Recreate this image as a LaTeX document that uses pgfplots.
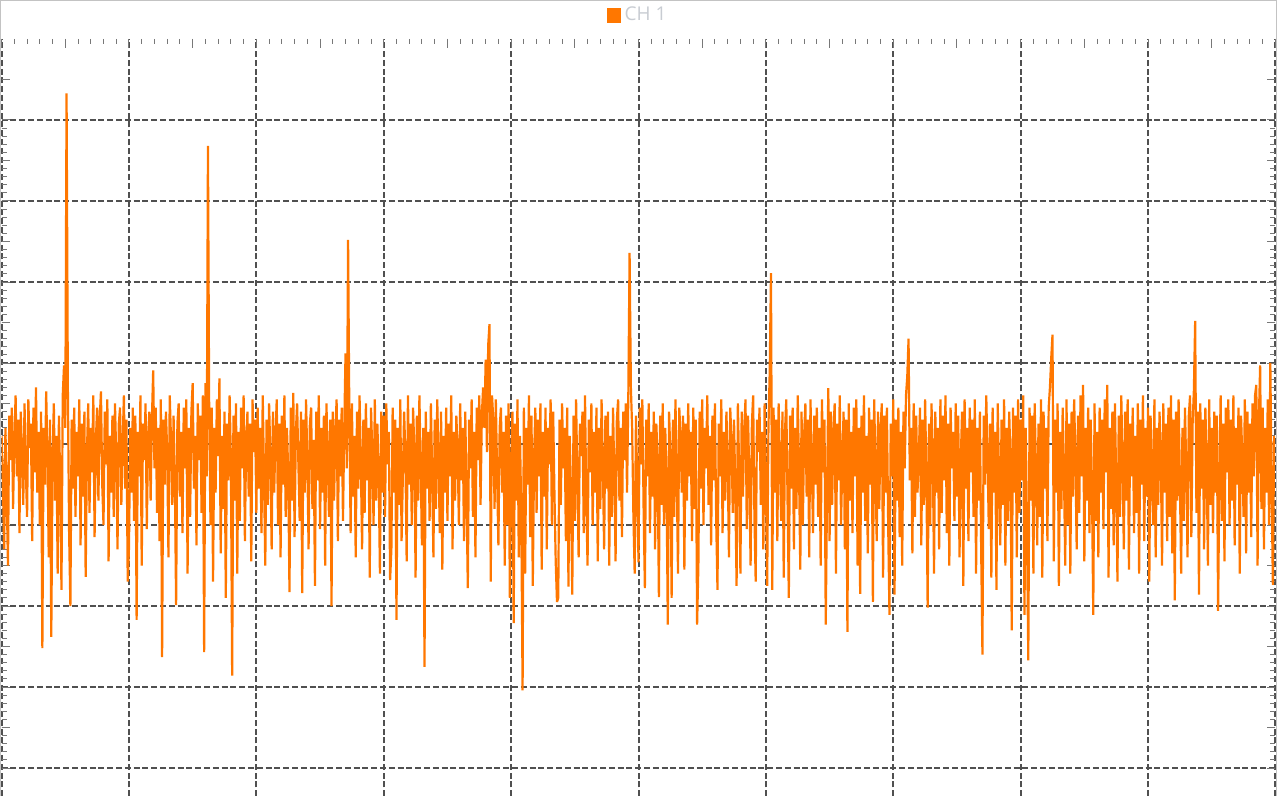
\documentclass[border=0pt]{standalone}
\usepackage{fontspec}
\setmainfont{Open Sans}
\usepackage{pgfplots}
\pgfplotsset{compat=1.18}
\definecolor{sig}{RGB}{255,119,0}
\definecolor{gridc}{RGB}{80,80,80}
\definecolor{tickc}{RGB}{120,120,120}
\definecolor{framec}{RGB}{195,195,195}
\definecolor{legtext}{RGB}{200,204,210}
\begin{document}
\begin{tikzpicture}
\useasboundingbox (0,0) rectangle (638.5pt,-398pt);
\begin{axis}[
  at={(0.8pt,-19.5pt)}, anchor=north west,
  scale only axis, width=636.9pt, height=405pt,
  xmin=0, xmax=1000, ymin=-500, ymax=500,
  xtick={0,100,...,1000}, ytick={-400,-300,...,400},
  minor x tick num=9, minor y tick num=9,
  extra x ticks={50,150,...,950}, extra y ticks={-450,-350,...,450},
  extra tick style={grid=none, major tick length=4.3pt},
  xticklabels={}, yticklabels={}, extra x tick labels={}, extra y tick labels={},
  tick align=inside, tick pos=both,
  major tick length=4.3pt, minor tick length=2.5pt,
  every tick/.style={color=tickc, line width=0.5pt},
  grid=major,
  major grid style={color=gridc, line width=1pt, dash pattern=on 3pt off 1.4pt},
  axis line style={draw=none},
  legend style={draw=none, fill=none, at={(0.5,1)}, anchor=center, yshift=11.75pt,
    font=\fontsize{9.5pt}{11pt}\selectfont, text=legtext},
  legend image code/.code={\fill[sig] (0pt,-3pt) rectangle (6pt,3pt);},
]
\addplot[color=sig, line width=1.1pt, mark=none, line join=miter, miter limit=2] table[header=false, row sep=\\, x expr=\coordindex, y index=0] {
10\\ -45\\ -130\\ 20\\ -60\\ -150\\ 35\\ -20\\ 45\\ -80\\ 5\\ 60\\ -40\\ 30\\ -110\\ 40\\ -10\\ -75\\ 50\\ -30\\
-90\\ 55\\ -5\\ 25\\ -120\\ 45\\ -35\\ 70\\ -60\\ 15\\ -100\\ 40\\ -252\\ 20\\ -50\\ 65\\ -15\\ -140\\ 30\\ -238\\
-20\\ 50\\ -70\\ 10\\ -160\\ 35\\ -45\\ -180\\ 60\\ 97\\ 20\\ 433\\ 73\\ -110\\ -200\\ 30\\ -55\\ 45\\ -90\\ 15\\
-40\\ 55\\ -125\\ 25\\ -65\\ 40\\ -164\\ -10\\ 50\\ -85\\ 20\\ -35\\ 60\\ -115\\ 5\\ 45\\ -70\\ 30\\ 65\\ -50\\
-100\\ 40\\ -25\\ 55\\ -145\\ 10\\ -60\\ 35\\ -90\\ 50\\ -15\\ -130\\ 25\\ 45\\ -75\\ 0\\ 60\\ -55\\ 30\\ -170\\
-128\\ 20\\ -60\\ 45\\ -95\\ 35\\ -217\\ 15\\ -40\\ 60\\ -150\\ 25\\ -20\\ 50\\ -105\\ 10\\ 40\\ -70\\ 30\\ 91\\
-30\\ 45\\ -85\\ 20\\ -120\\ 55\\ -263\\ 30\\ -50\\ 40\\ -10\\ -140\\ 60\\ 5\\ -75\\ 35\\ -40\\ -199\\ 25\\ 50\\
-65\\ 15\\ -110\\ 45\\ -30\\ 55\\ -160\\ 20\\ -90\\ 40\\ 75\\ -55\\ 10\\ -125\\ 50\\ -20\\ 35\\ -85\\ 60\\ -257\\
75\\ -40\\ 368\\ 30\\ -100\\ 45\\ -170\\ 20\\ -60\\ 55\\ -15\\ 81\\ -135\\ 10\\ -80\\ 40\\ -190\\ 25\\ -45\\ 60\\
-20\\ -286\\ 35\\ -70\\ 50\\ -160\\ 15\\ -95\\ 45\\ -30\\ 60\\ -120\\ 5\\ 40\\ -65\\ 25\\ -145\\ 55\\ -10\\ 30\\
-85\\ 45\\ -55\\ 20\\ -110\\ 60\\ -40\\ -150\\ 30\\ -75\\ 50\\ -15\\ -130\\ 40\\ -60\\ 10\\ 55\\ -100\\ 25\\ -140\\
35\\ -50\\ 60\\ -90\\ 20\\ -35\\ -183\\ 45\\ -70\\ 63\\ -115\\ 15\\ 50\\ -25\\ -95\\ 40\\ -184\\ 30\\ -60\\ 55\\
-20\\ -130\\ 25\\ 45\\ -80\\ 5\\ -175\\ 40\\ -45\\ 60\\ -105\\ 20\\ -60\\ 35\\ -150\\ 50\\ -10\\ -90\\ 30\\ -200\\
40\\ -70\\ 15\\ 55\\ -120\\ 30\\ -40\\ 45\\ -95\\ 20\\ 112\\ -30\\ 252\\ 35\\ -110\\ 50\\ -65\\ 10\\ -140\\ 40\\
-55\\ 60\\ -20\\ -130\\ 30\\ -85\\ 50\\ -45\\ 20\\ -165\\ 45\\ -10\\ -100\\ 55\\ -70\\ 25\\ -35\\ -160\\ 40\\ -60\\
35\\ -90\\ 50\\ -25\\ 15\\ -168\\ -130\\ 45\\ -60\\ 30\\ -217\\ 20\\ -75\\ 55\\ -120\\ -40\\ 40\\ -15\\ -145\\ 60\\
-50\\ 25\\ -100\\ 45\\ -5\\ -165\\ 35\\ -70\\ 60\\ -30\\ -125\\ 20\\ -275\\ 40\\ -55\\ 15\\ -95\\ 50\\ -35\\ -140\\
30\\ -80\\ 55\\ -20\\ -110\\ 40\\ -155\\ 10\\ -60\\ 45\\ -95\\ 25\\ -40\\ 60\\ -130\\ 15\\ -70\\ 35\\ -10\\ -100\\
50\\ -45\\ 20\\ -120\\ 40\\ -65\\ -178\\ 30\\ -30\\ 55\\ -90\\ 15\\ -140\\ 45\\ -20\\ 60\\ -75\\ 35\\ 70\\ 20\\
104\\ -10\\ 122\\ 148\\ -170\\ 60\\ 30\\ -80\\ 55\\ -40\\ -125\\ 20\\ 45\\ -60\\ 15\\ -150\\ 35\\ -100\\ 50\\ -190\\
-30\\ 40\\ -221\\ 25\\ -70\\ 55\\ -140\\ 10\\ -95\\ -304\\ 45\\ -160\\ 20\\ -50\\ 60\\ -115\\ 35\\ -175\\ -20\\ 45\\
-85\\ 30\\ -40\\ 50\\ -155\\ 15\\ -65\\ 45\\ -130\\ 20\\ -25\\ 55\\ -100\\ 40\\ -60\\ -145\\ -195\\ -190\\ 30\\ -75\\
50\\ -30\\ 20\\ -120\\ 45\\ -176\\ 10\\ -60\\ -186\\ 35\\ -95\\ 55\\ -45\\ -140\\ 25\\ -15\\ 40\\ -110\\ 60\\ -70\\
-150\\ 30\\ -35\\ 50\\ -100\\ 15\\ -60\\ 45\\ -145\\ 20\\ -80\\ 55\\ -25\\ -130\\ 35\\ -55\\ 40\\ -150\\ 10\\ -90\\
45\\ -40\\ -145\\ 30\\ 55\\ -70\\ 20\\ -115\\ 40\\ -20\\ 50\\ -60\\ 60\\ 236\\ 70\\ 20\\ -90\\ -160\\ 35\\ -50\\
-146\\ 45\\ -25\\ 55\\ -80\\ -178\\ 30\\ -40\\ 50\\ -110\\ 15\\ -65\\ 40\\ -130\\ 25\\ -20\\ -189\\ 35\\ -75\\ 50\\
-100\\ 20\\ -50\\ -223\\ 40\\ -15\\ -190\\ 30\\ -90\\ 55\\ -35\\ -160\\ 45\\ 10\\ -60\\ 35\\ -155\\ 25\\ -70\\ 50\\
-40\\ 15\\ -120\\ 45\\ -80\\ 30\\ -223\\ -150\\ 40\\ -55\\ 55\\ -100\\ 20\\ -30\\ 60\\ -75\\ 10\\ -125\\ 35\\ -45\\
50\\ -95\\ -180\\ 25\\ -40\\ 55\\ -110\\ 15\\ -70\\ 40\\ -20\\ -140\\ 45\\ 5\\ -85\\ 30\\ -60\\ -175\\ 50\\ -30\\
-160\\ 40\\ -65\\ 20\\ 55\\ -105\\ 35\\ -45\\ -150\\ 25\\ 60\\ -90\\ -170\\ 30\\ -10\\ 45\\ -75\\ 15\\ -130\\ 50\\
-40\\ -175\\ 20\\ 89\\ 211\\ -180\\ 45\\ -60\\ 30\\ -120\\ 50\\ -25\\ -95\\ 40\\ -165\\ 15\\ 55\\ -70\\ -190\\ 35\\
-55\\ 45\\ -130\\ 20\\ -80\\ 60\\ -30\\ -155\\ 40\\ -100\\ 10\\ 50\\ -65\\ 30\\ -140\\ 55\\ -20\\ -110\\ 35\\ -50\\
45\\ -90\\ 20\\ -150\\ 55\\ -35\\ 30\\ -223\\ -60\\ 69\\ -120\\ 40\\ -75\\ 15\\ 50\\ -160\\ 25\\ -45\\ 60\\ -100\\
-20\\ 40\\ -130\\ 30\\ -232\\ 50\\ -70\\ 15\\ -110\\ 45\\ -40\\ 55\\ -150\\ 20\\ -185\\ 35\\ -60\\ 60\\ -95\\ 10\\
-135\\ 45\\ -50\\ 30\\ -195\\ 55\\ -25\\ -120\\ 40\\ -80\\ 20\\ 50\\ -165\\ 35\\ -60\\ 45\\ -100\\ -211\\ 25\\ -40\\
55\\ -186\\ 30\\ -70\\ 45\\ -115\\ 15\\ -150\\ 40\\ -30\\ 60\\ 84\\ 130\\ -45\\ 20\\ -135\\ 50\\ -90\\ 35\\ -60\\
-20\\ 45\\ -125\\ 30\\ -75\\ 55\\ -40\\ -202\\ 25\\ -100\\ 50\\ -10\\ -160\\ 40\\ -60\\ 20\\ -130\\ 55\\ -85\\ 35\\
-45\\ 60\\ -110\\ 25\\ -150\\ 45\\ -30\\ 15\\ -95\\ 50\\ -65\\ 35\\ -140\\ -20\\ 40\\ -175\\ 55\\ -55\\ 20\\ -120\\
45\\ -35\\ 30\\ -90\\ 55\\ -160\\ 20\\ -70\\ 40\\ -130\\ -260\\ 35\\ -50\\ 60\\ -15\\ -105\\ 25\\ -165\\ 45\\ -60\\
15\\ -180\\ 50\\ -40\\ -125\\ 30\\ -75\\ 55\\ -150\\ 20\\ -95\\ 40\\ -20\\ -230\\ 45\\ -60\\ 35\\ -140\\ 55\\ -85\\
30\\ -45\\ 60\\ -211\\ 20\\ -110\\ -267\\ 45\\ -70\\ 35\\ -160\\ 50\\ -30\\ -125\\ 25\\ -90\\ 55\\ -165\\ 40\\ -55\\
20\\ -120\\ 45\\ 70\\ 106\\ 135\\ -145\\ 30\\ -60\\ 50\\ -175\\ 15\\ -80\\ 45\\ -35\\ -150\\ 55\\ -100\\ 25\\ -160\\
40\\ -65\\ 55\\ -20\\ -130\\ 35\\ -85\\ 60\\ -40\\ 73\\ -145\\ 20\\ -70\\ 45\\ -110\\ 30\\ -55\\ -211\\ 50\\ -95\\
15\\ -140\\ 45\\ -60\\ 30\\ -105\\ 55\\ -35\\ 73\\ -165\\ 20\\ -80\\ 40\\ -125\\ 50\\ -45\\ -170\\ 35\\ -90\\ 60\\
-25\\ -130\\ 40\\ -70\\ 55\\ -155\\ 25\\ -40\\ 45\\ -110\\ 10\\ -85\\ 50\\ -160\\ 30\\ -50\\ 60\\ -120\\ 20\\ -65\\
45\\ -170\\ 35\\ -30\\ -100\\ 55\\ -140\\ 20\\ -75\\ 40\\ -10\\ -150\\ 50\\ -60\\ 25\\ -120\\ 45\\ -90\\ 60\\ -135\\
30\\ -193\\ 40\\ -70\\ 55\\ -45\\ -160\\ 20\\ -95\\ 45\\ -30\\ -140\\ 35\\ 60\\ -115\\ 25\\ 67\\ 152\\ -85\\ 40\\
-186\\ 50\\ -55\\ 30\\ -130\\ 45\\ -20\\ -150\\ 55\\ -75\\ 20\\ -110\\ 40\\ -60\\ 35\\ -206\\ -40\\ 60\\ -95\\ 25\\
-145\\ 45\\ -35\\ 55\\ -100\\ 30\\ -70\\ 60\\ -125\\ 20\\ -50\\ 45\\ -160\\ 35\\ -15\\ -90\\ 55\\ -135\\ 40\\ -60\\
25\\ -115\\ 50\\ -40\\ 60\\ 73\\ -150\\ 30\\ 97\\ -80\\ 45\\ -130\\ 20\\ -60\\ 55\\ -100\\ 100\\ -50\\ -174\\ 10\\
};
\addlegendentry{CH 1}
\end{axis}
\draw[framec, line width=0.6pt] (0.3pt,-420pt) -- (0.3pt,-0.3pt) -- (638.2pt,-0.3pt) -- (638.2pt,-420pt);
\end{tikzpicture}
\end{document}
